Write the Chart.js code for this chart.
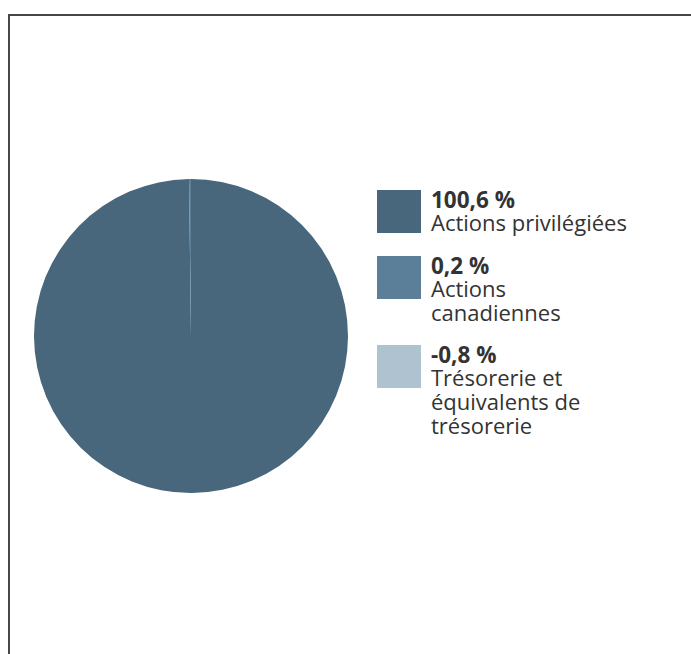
<!DOCTYPE html>
<html>
<head>
<meta charset="utf-8">
<script src="https://cdn.jsdelivr.net/npm/chart.js@4.4.0/dist/chart.umd.min.js"></script>
<style>
  html, body { margin: 0; padding: 0; background: #fff; }
  body { width: 691px; height: 654px; position: relative; overflow: hidden; font-family: "Open Sans", Lato, sans-serif; color: #333; }
  .frame { position: absolute; left: 8px; top: 14px; width: 800px; height: 800px; border-top: 2px solid #474747; border-left: 2px solid #474747; }
  .pie { position: absolute; left: 34px; top: 179px; width: 314px; height: 314px; }
  .legend { position: absolute; left: 377px; top: 190px; width: 314px; }
  .item { position: relative; padding-left: 54px; white-space: nowrap; }
  .swatch { position: absolute; left: 0; top: 0; width: 44px; height: 43px; }
  .value { font-weight: bold; font-size: 22.5px; line-height: 20px; color: #333; }
  .label { font-size: 22px; line-height: 24px; color: #333; }
</style>
</head>
<body>
<div class="frame"></div>
<div class="pie"><canvas id="chart"></canvas></div>
<div class="legend" id="legend"></div>
<script>
const categories = ["Actions privilégiées", "Actions canadiennes", "Trésorerie et équivalents de trésorerie"];
const labelLines = [["Actions privilégiées"], ["Actions", "canadiennes"], ["Trésorerie et", "équivalents de", "trésorerie"]];
const values = [100.6, 0.2, -0.8];
const valueLabels = ["100,6 %", "0,2 %", "-0,8 %"];
const colors = ["#48677c", "#5b7f99", "#aec2d0"];
const itemTops = [0, 66, 155];

// negative slices are not drawn in the pie
new Chart(document.getElementById("chart"), {
  type: "pie",
  data: {
    labels: categories,
    datasets: [{
      data: values.map(v => Math.max(0, v)),
      backgroundColor: colors,
      borderWidth: 0
    }]
  },
  options: {
    responsive: true,
    maintainAspectRatio: false,
    animation: false,
    layout: { padding: 0 },
    plugins: { legend: { display: false }, tooltip: { enabled: false } }
  }
});

const legend = document.getElementById("legend");
categories.forEach((c, i) => {
  const item = document.createElement("div");
  item.className = "item";
  item.style.position = "absolute";
  item.style.top = itemTops[i] + "px";
  item.innerHTML = '<div class="swatch" style="background:' + colors[i] + '"></div>' +
    '<div class="value">' + valueLabels[i] + '</div>' +
    labelLines[i].map(l => '<div class="label">' + l + '</div>').join("");
  legend.appendChild(item);
});
</script>
</body>
</html>
